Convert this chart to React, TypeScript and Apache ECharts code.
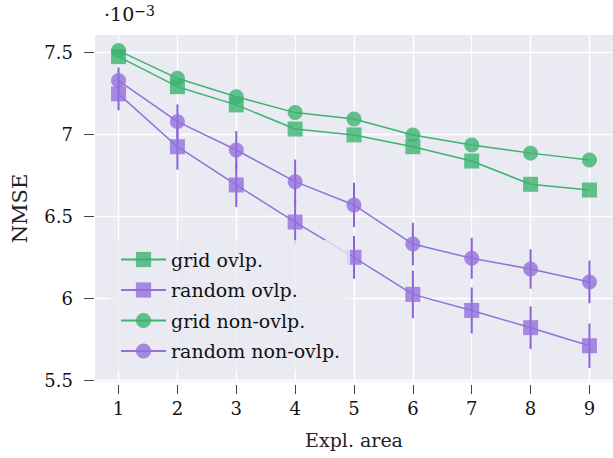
import { useEffect, useRef } from "react";
import * as echarts from "echarts";

const areas = [1, 2, 3, 4, 5, 6, 7, 8, 9];
const gridOvlp = [7.473, 7.29, 7.179, 7.032, 6.996, 6.924, 6.837, 6.695, 6.66];
const randomOvlp = [7.246, 6.924, 6.691, 6.465, 6.25, 6.024, 5.926, 5.821, 5.711];
const randomOvlpErr = [0.1, 0.14, 0.135, 0.135, 0.13, 0.145, 0.14, 0.13, 0.135];
const gridNonOvlp = [7.51, 7.341, 7.229, 7.132, 7.093, 6.996, 6.935, 6.885, 6.843];
const randomNonOvlp = [7.327, 7.077, 6.904, 6.711, 6.569, 6.331, 6.244, 6.179, 6.1];
const randomNonOvlpErr = [0.08, 0.105, 0.115, 0.135, 0.135, 0.13, 0.125, 0.12, 0.13];
const yTicks = [5.5, 6, 6.5, 7, 7.5];
const names = ["grid ovlp.", "random ovlp.", "grid non-ovlp.", "random non-ovlp."];

const FONT = "DejaVu Serif";
const GREEN = "#3cb371";
const PURPLE = "#9370db";

export default function App() {
  const ref = useRef<HTMLDivElement>(null);
  useEffect(() => {
    if (!ref.current) return;
    const chart = echarts.init(ref.current, undefined, { renderer: "svg" });

    const lineSeries = (name: string, vals: number[], color: string, symbol: string) => ({
      type: "line",
      name,
      data: areas.map((a, i) => [a, vals[i]]),
      symbol,
      symbolSize: 15,
      itemStyle: { color, opacity: 0.8 },
      lineStyle: { color, width: 1.5 },
      z: 3,
    });

    const errSeries = (name: string, vals: number[], errs: number[]) => ({
      type: "custom",
      name,
      silent: true,
      z: 2,
      data: areas.map((a, i) => [a, vals[i] - errs[i], vals[i] + errs[i]]),
      encode: { x: 0, y: [1, 2] },
      renderItem: (_p: any, api: any) => {
        const p1 = api.coord([api.value(0), api.value(1)]);
        const p2 = api.coord([api.value(0), api.value(2)]);
        return {
          type: "line",
          shape: { x1: p1[0], y1: p1[1], x2: p2[0], y2: p2[1] },
          style: { stroke: "#8a62db", lineWidth: 2 },
        };
      },
    });

    chart.setOption({
      animation: false,
      title: {
        left: 104,
        top: 4,
        padding: 0,
        text: "{a|·10}{b|−3}",
        textStyle: {
          fontWeight: "normal",
          rich: {
            a: { fontFamily: FONT, fontSize: 19, fontWeight: "normal", color: "#111", lineHeight: 19, padding: [3, 0, 0, 0], verticalAlign: "bottom" },
            b: { fontFamily: FONT, fontSize: 14, fontWeight: "normal", color: "#111", lineHeight: 14, verticalAlign: "top" },
          },
        },
      },
      grid: {
        left: 95,
        top: 35,
        width: 523,
        height: 347,
        show: true,
        backgroundColor: "#eaeaf2",
        borderWidth: 0,
      },
      legend: {
        data: names,
        orient: "vertical",
        left: 110,
        top: 240,
        itemWidth: 45,
        itemHeight: 19,
        itemGap: 11.5,
        padding: [10, 10, 10, 10],
        backgroundColor: "rgba(234,234,242,0.8)",
        borderRadius: 4,
        textStyle: { fontFamily: FONT, fontSize: 19, color: "#111", lineHeight: 19 },
      },
      xAxis: {
        type: "value",
        min: 0.6,
        max: 9.4,
        offset: 3,
        name: "Expl. area",
        nameLocation: "middle",
        nameGap: 45,
        nameTextStyle: { fontFamily: FONT, fontSize: 19, color: "#222" },
        axisLine: { show: false },
        axisTick: { show: true, length: 9, customValues: areas, lineStyle: { color: "#444", width: 1 } },
        axisLabel: { customValues: areas, margin: 14, fontFamily: FONT, fontSize: 18, color: "#111" },
        splitLine: { show: true, lineStyle: { color: "#ffffff", width: 1.3 } },
      },
      yAxis: {
        type: "value",
        min: 5.49,
        max: 7.605,
        offset: 1,
        name: "NMSE",
        nameLocation: "middle",
        nameGap: 64,
        nameTextStyle: { fontFamily: FONT, fontSize: 21, color: "#222" },
        axisLine: { show: false },
        axisTick: { show: true, length: 10, customValues: yTicks, lineStyle: { color: "#444", width: 1 } },
        axisLabel: { customValues: yTicks, margin: 21, fontFamily: FONT, fontSize: 18, color: "#111" },
        splitLine: { show: true, lineStyle: { color: "#ffffff", width: 1.3 } },
      },
      series: [
        errSeries("random ovlp. err", randomOvlp, randomOvlpErr),
        errSeries("random non-ovlp. err", randomNonOvlp, randomNonOvlpErr),
        lineSeries(names[0], gridOvlp, GREEN, "rect"),
        lineSeries(names[1], randomOvlp, PURPLE, "rect"),
        lineSeries(names[2], gridNonOvlp, GREEN, "circle"),
        lineSeries(names[3], randomNonOvlp, PURPLE, "circle"),
      ],
    });
    return () => chart.dispose();
  }, []);
  return (
    <div
      ref={ref}
      style={{ position: "fixed", left: 0, top: 0, width: 613, height: 458, background: "#fff" }}
    />
  );
}
